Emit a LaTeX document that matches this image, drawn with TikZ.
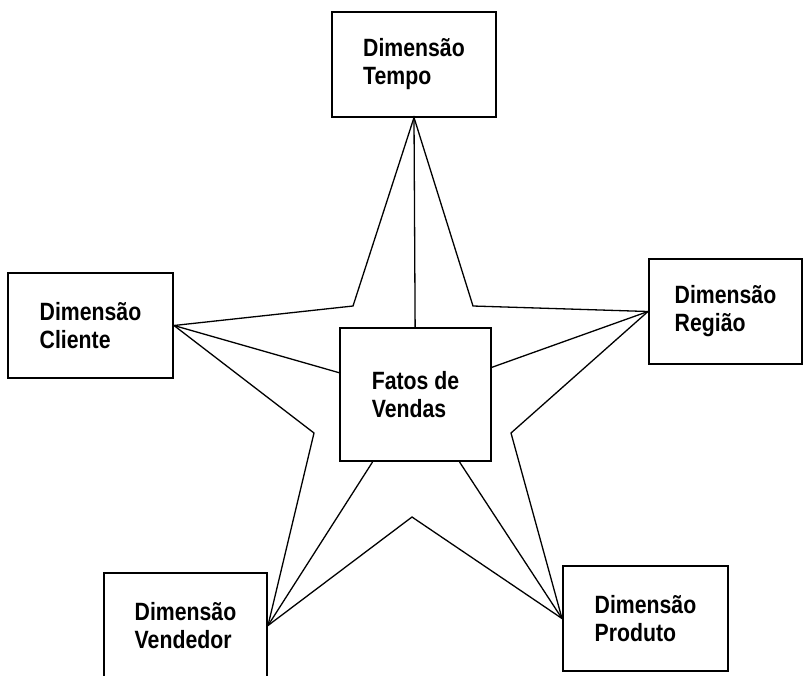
\documentclass[tikz,border=0pt]{standalone}
\usepackage{fontspec}
\newfontfamily\dimfont{Liberation Sans}[FakeStretch=0.85]
\usepackage{tikz}

\tikzset{
  dimbox/.style={draw, line width=2pt, fill=white, inner sep=0pt, align=left,
    minimum width=164pt, minimum height=105pt,
    font=\dimfont\bfseries\fontsize{25}{28}\selectfont},
  starline/.style={line width=1.3pt, line join=miter}
}

\begin{document}
\begin{tikzpicture}[x=1pt,y=-1pt]

\useasboundingbox (0,0) rectangle (803,675);

%% Star points (inner corners)
\coordinate (inTL) at (353,306);
\coordinate (inTR) at (473,306);
\coordinate (inR) at (511,433);
\coordinate (inB) at (412,517);
\coordinate (inL) at (314,433);

%% Dimension tables
\node [dimbox] (tempo) at (414,64) {Dimensão\\Tempo};
\node [dimbox, minimum width=165pt] (cliente) at (90.5,325.5) {Dimensão\\Cliente};
\node [dimbox, minimum width=153pt] (regiao) at (725.5,311.5) {Dimensão\\Região};
\node [dimbox, minimum width=163pt] (vendedor) at (185.5,625.5) {Dimensão\\Vendedor};
\node [dimbox, minimum width=165pt] (produto) at (645.5,618.5) {Dimensão\\Produto};

%% Fact table
\node [dimbox, minimum width=151pt, minimum height=133pt] (fatos) at (415.5,394.5) {Fatos de\\Vendas};

%% Star outline
\draw [starline] (tempo.south) -- (inTL) -- (cliente.east) -- (inL) -- (vendedor.east)
  -- (inB) -- (produto.west) -- (inR) -- (regiao.west) -- (inTR) -- cycle;

%% Links to the facts
\foreach \dim in {tempo.south, cliente.east, regiao.west, vendedor.east, produto.west}
  \draw [starline] (\dim) -- (fatos);

\end{tikzpicture}
\end{document}
